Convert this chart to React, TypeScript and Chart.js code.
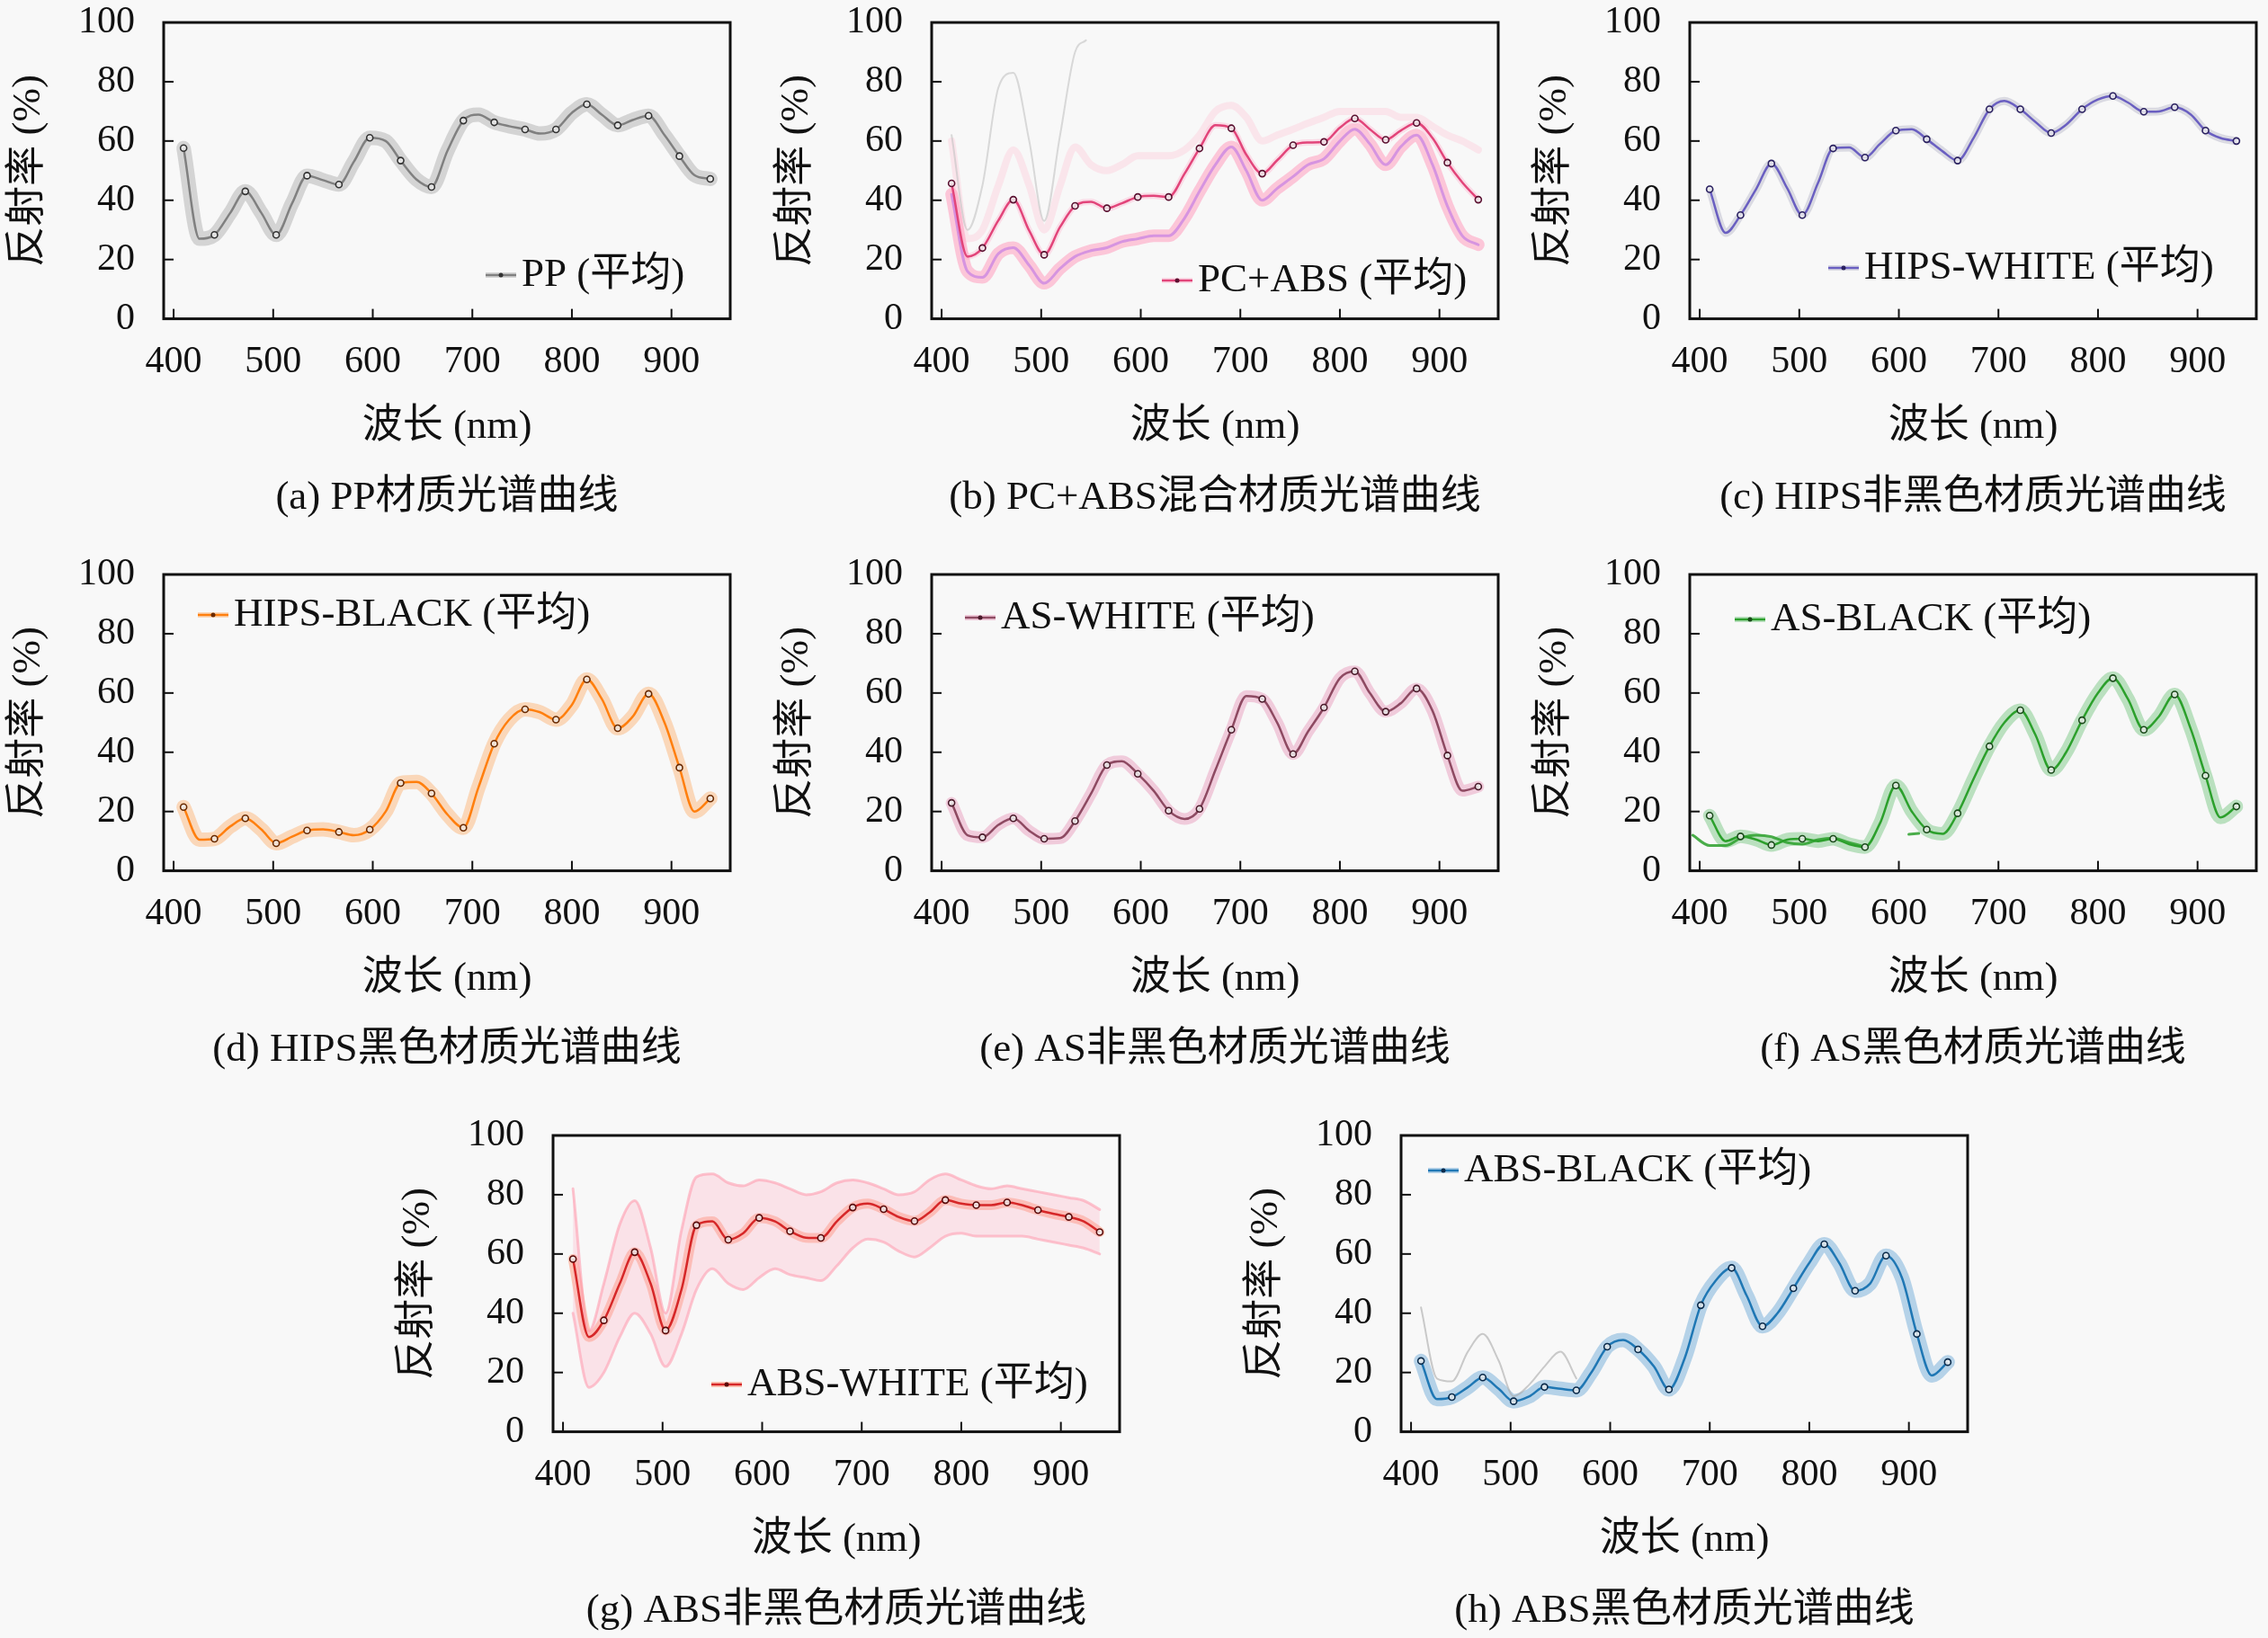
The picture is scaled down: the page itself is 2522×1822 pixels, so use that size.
import { useEffect, useRef } from 'react'
import { Chart, registerables, type ChartConfiguration, type Plugin } from 'chart.js'

Chart.register(...registerables)

const FONT = "'Liberation Serif', 'Noto Sans CJK SC', serif"
Chart.defaults.font.family = FONT

// sample wavelengths (nm); every other sample carries a marker
const WAVELENGTHS = [410, 426, 441, 457, 472, 488, 503, 519, 534, 550, 566, 581, 597, 613, 628, 644, 659, 675, 691, 706, 722, 737, 753, 768, 784, 800, 815, 830, 846, 861, 877, 893, 908, 923, 939]
const X_TICKS = [400, 500, 600, 700, 800, 900]
const Y_TICKS = [0, 20, 40, 60, 80, 100]

// mean reflectance (%) per material
const PP_MEAN = [57.6, 27, 28.3, 35.8, 43, 35.8, 28.3, 39, 48.3, 46.8, 45.3, 53, 61.1, 60, 53.4, 47, 44.5, 56.7, 66.9, 68.9, 66.3, 65, 63.9, 62.5, 63.9, 69.5, 72.4, 68.9, 65.3, 67.1, 68.5, 62, 54.9, 48.5, 47.2]
const PCABS_MEAN = [45.7, 21, 23.9, 33.2, 40.2, 29.7, 21.6, 31, 38.1, 39.5, 37.3, 39, 41.1, 41.5, 41.1, 49, 57.5, 65.3, 64.3, 55.4, 49, 53.5, 58.6, 59.5, 59.7, 64.5, 67.6, 64, 60.4, 63.5, 66.1, 61, 52.7, 46, 40.2]
const HIPS_WHITE_MEAN = [43.7, 29, 35, 44, 52.4, 44, 35, 46, 57.5, 57.8, 54.4, 59, 63.5, 64, 60.6, 56.5, 53.4, 61, 70.7, 73.5, 70.7, 66.5, 62.7, 65.5, 70.7, 74, 75.2, 73, 69.9, 70, 71.4, 69, 63.5, 61, 60]
const HIPS_BLACK_MEAN = [21.5, 10.5, 10.8, 15, 17.7, 14, 9.3, 11.5, 13.6, 14, 13.1, 12, 13.9, 20, 29.6, 30, 26.1, 19, 14.5, 28, 42.9, 51, 54.5, 53.5, 51, 56, 64.6, 58, 48.1, 52, 59.7, 50, 34.8, 20, 24.4]
const AS_WHITE_MEAN = [22.9, 12, 11.3, 15.5, 17.7, 13.5, 10.8, 11, 16.8, 26, 35.7, 37, 32.7, 27, 20.3, 17.5, 20.9, 34, 47.6, 59, 58, 50, 39.4, 47, 55.1, 65, 67.3, 60, 53.7, 56.5, 61.5, 54, 38.9, 27, 28.4]
const AS_BLACK_MEAN = [18.6, 10, 11.6, 10.5, 8.7, 10.5, 10.8, 10, 10.8, 9, 8, 16, 28.8, 20, 13.9, 12.5, 19.4, 31, 42, 50, 54.2, 46, 34, 40, 50.8, 60, 65, 58, 47.6, 52, 59.5, 48, 32.1, 18, 21.7]
const ABS_WHITE_MEAN = [58.3, 32, 37.6, 50, 60.6, 50, 34.2, 48, 69.7, 71, 64.8, 67, 72.2, 71, 67.7, 65.5, 65.4, 71, 75.7, 77, 75.1, 72.5, 71.1, 74, 78.2, 77, 76.5, 76.5, 77.4, 76.5, 74.8, 73.5, 72.5, 71, 67.4]
const ABS_BLACK_MEAN = [23.9, 11, 11.7, 15, 18.3, 14.5, 10.3, 12, 15.1, 14.5, 14, 20, 28.7, 31, 27.8, 22, 14.3, 25, 42.7, 51, 55.3, 46, 35.6, 40, 48.4, 57, 63.3, 57, 47.6, 50, 59.4, 52, 33, 19, 23.5]

// individual sample curves that stray from the mean
const PCABS_LOW = [42, 16, 14, 22, 24, 18, 12, 17, 21, 23, 24, 26, 27, 28, 28, 34, 43, 52, 58, 50, 40, 44, 48, 52, 54, 60, 64, 59, 52, 58, 62, 52, 38, 28, 25]
const PCABS_HIGH = [60, 27, 30, 45, 57, 45, 30, 45, 58, 52, 50, 52, 55, 55, 55, 57, 62, 70, 72, 68, 60, 62, 64, 66, 68, 70, 70, 70, 70, 68, 68, 65, 62, 60, 57]
const PCABS_SPIKE_WL = [410, 426, 441, 457, 472, 488, 503, 519, 534, 545]
const PCABS_SPIKE = [62, 30, 45, 78, 83, 60, 33, 62, 90, 94]
const ABS_WHITE_UPPER = [82, 34, 50, 70, 78, 62, 40, 68, 86, 87, 84, 83, 85, 84, 82, 80, 81, 84, 85, 84, 82, 80, 81, 85, 87, 85, 83, 82, 83, 82, 81, 80, 79, 78, 75]
const ABS_WHITE_LOWER = [40, 15, 20, 32, 40, 33, 22, 33, 48, 55, 50, 48, 52, 55, 53, 52, 51, 56, 62, 65, 64, 61, 59, 62, 66, 67, 66, 66, 66, 66, 65, 64, 63, 62, 60]
const AS_BLACK_ALT_WL = [393, 410, 426, 441, 457, 472, 488, 503, 519, 534, 550, 562]
const AS_BLACK_ALT = [12, 8.5, 8.5, 11, 12, 11.5, 9.5, 9, 10.5, 11, 9.5, 8.5]
const AS_BLACK_BIT_WL = [610, 620]
const AS_BLACK_BIT = [12.3, 12.6]
const ABS_BLACK_GRAY_WL = [410, 426, 441, 457, 472, 488, 503, 519, 534, 550, 566]
const ABS_BLACK_GRAY = [42, 18, 17, 27, 33, 24, 12, 16, 22, 27, 18]

const CANVAS_W = 824
const CANVAS_H = 590
const TEXT_SIZE = 45
const TICK_SIZE = 42

interface Extra {
  wl: number[]
  values: number[]
  color: string
  width: number
  order: number
  fill?: string | boolean
  fillColor?: string
}

interface PanelSpec {
  left: number
  top: number
  caption: string
  legend: string
  legendX: number
  legendY: number
  mean: number[]
  line: string
  marker: string
  band: string
  bandWidth: number
  extras?: Extra[]
}

const PANELS: PanelSpec[] = [
  { left: 0, top: 0, caption: '(a) PP材质光谱曲线', legend: 'PP (平均)', legendX: 358, legendY: 281,
    mean: PP_MEAN, line: '#808080', marker: '#333333', band: 'rgba(128,128,128,0.3)', bandWidth: 16 },
  { left: 854, top: 0, caption: '(b) PC+ABS混合材质光谱曲线', legend: 'PC+ABS (平均)', legendX: 256, legendY: 287,
    mean: PCABS_MEAN, line: '#e2457a', marker: '#5a1030', band: 'rgba(255,170,200,0.35)', bandWidth: 7,
    extras: [
      { wl: PCABS_SPIKE_WL, values: PCABS_SPIKE, color: 'rgba(190,190,190,0.55)', width: 2, order: 3 },
      { wl: WAVELENGTHS, values: PCABS_HIGH, color: 'rgba(255,185,205,0.3)', width: 8, order: 3 },
      { wl: WAVELENGTHS, values: PCABS_LOW, color: 'rgba(255,165,195,0.6)', width: 14, order: 2 },
      { wl: WAVELENGTHS, values: PCABS_LOW, color: 'rgba(200,130,225,0.75)', width: 3, order: 1 },
    ] },
  { left: 1697, top: 0, caption: '(c) HIPS非黑色材质光谱曲线', legend: 'HIPS-WHITE (平均)', legendX: 154, legendY: 273,
    mean: HIPS_WHITE_MEAN, line: '#6a5fc1', marker: '#2a2060', band: 'rgba(150,150,175,0.3)', bandWidth: 9 },
  { left: 0, top: 614, caption: '(d) HIPS黑色材质光谱曲线', legend: 'HIPS-BLACK (平均)', legendX: 38, legendY: 45,
    mean: HIPS_BLACK_MEAN, line: '#ff7f0e', marker: '#6a2a00', band: 'rgba(255,140,40,0.3)', bandWidth: 16 },
  { left: 854, top: 614, caption: '(e) AS非黑色材质光谱曲线', legend: 'AS-WHITE (平均)', legendX: 37, legendY: 48,
    mean: AS_WHITE_MEAN, line: '#8e4a62', marker: '#4a1a2a', band: 'rgba(225,120,165,0.35)', bandWidth: 13 },
  { left: 1697, top: 614, caption: '(f) AS黑色材质光谱曲线', legend: 'AS-BLACK (平均)', legendX: 50, legendY: 50,
    mean: AS_BLACK_MEAN, line: '#2ca02c', marker: '#1a4a1a', band: 'rgba(44,170,60,0.3)', bandWidth: 15,
    extras: [
      { wl: AS_BLACK_ALT_WL, values: AS_BLACK_ALT, color: 'rgba(44,160,44,0.85)', width: 3, order: 1 },
      { wl: AS_BLACK_BIT_WL, values: AS_BLACK_BIT, color: 'rgba(44,160,44,0.85)', width: 3, order: 1 },
    ] },
  { left: 433, top: 1238, caption: '(g) ABS非黑色材质光谱曲线', legend: 'ABS-WHITE (平均)', legendX: 176, legendY: 277,
    mean: ABS_WHITE_MEAN, line: '#d62728', marker: '#5a0a0a', band: 'rgba(255,120,80,0.4)', bandWidth: 11,
    extras: [
      { wl: WAVELENGTHS, values: ABS_WHITE_UPPER, color: 'rgba(255,150,170,0.55)', width: 3, order: 3, fill: '+1', fillColor: 'rgba(255,170,190,0.28)' },
      { wl: WAVELENGTHS, values: ABS_WHITE_LOWER, color: 'rgba(255,150,170,0.55)', width: 3, order: 3 },
    ] },
  { left: 1376, top: 1238, caption: '(h) ABS黑色材质光谱曲线', legend: 'ABS-BLACK (平均)', legendX: 30, legendY: 39,
    mean: ABS_BLACK_MEAN, line: '#1f77b4', marker: '#0a2a4a', band: 'rgba(40,130,200,0.32)', bandWidth: 16,
    extras: [
      { wl: ABS_BLACK_GRAY_WL, values: ABS_BLACK_GRAY, color: 'rgba(170,170,170,0.6)', width: 2, order: 3 },
    ] },
]

const pts = (wl: number[], vals: number[]) => vals.map((v, i) => ({ x: wl[i], y: v }))

function framePlugin(spec: PanelSpec): Plugin<'line'> {
  return {
    id: 'frame',
    afterDatasetsDraw(chart) {
      const { ctx, chartArea: { left, top, right, bottom }, scales: { x, y } } = chart
      ctx.save()
      ctx.strokeStyle = '#111'
      ctx.lineWidth = 2
      for (const v of X_TICKS) {
        const px = x.getPixelForValue(v)
        ctx.beginPath(); ctx.moveTo(px, bottom); ctx.lineTo(px, bottom - 11); ctx.stroke()
      }
      for (const v of Y_TICKS) {
        const py = y.getPixelForValue(v)
        ctx.beginPath(); ctx.moveTo(left, py); ctx.lineTo(left + 11, py); ctx.stroke()
      }
      ctx.lineWidth = 3
      ctx.strokeRect(left, top, right - left, bottom - top)

      // legend entry inside the plot
      const lx = left + spec.legendX
      const ly = top + spec.legendY
      ctx.strokeStyle = spec.band
      ctx.lineWidth = 6
      ctx.beginPath(); ctx.moveTo(lx, ly); ctx.lineTo(lx + 34, ly); ctx.stroke()
      ctx.strokeStyle = spec.line
      ctx.lineWidth = 2.5
      ctx.beginPath(); ctx.moveTo(lx, ly); ctx.lineTo(lx + 34, ly); ctx.stroke()
      ctx.fillStyle = spec.marker
      ctx.beginPath(); ctx.arc(lx + 17, ly, 2.5, 0, Math.PI * 2); ctx.fill()
      ctx.fillStyle = '#111'
      ctx.font = `${TEXT_SIZE}px ${FONT}`
      ctx.textBaseline = 'middle'
      ctx.textAlign = 'left'
      ctx.fillText(spec.legend, lx + 40, ly)
      ctx.restore()
    },
  }
}

function buildConfig(spec: PanelSpec): ChartConfiguration<'line'> {
  const extras = (spec.extras ?? []).map((e) => ({
    data: pts(e.wl, e.values),
    borderColor: e.color,
    borderWidth: e.width,
    backgroundColor: e.fillColor ?? 'transparent',
    fill: e.fill ?? false,
    pointRadius: 0,
    cubicInterpolationMode: 'monotone' as const,
    borderCapStyle: 'round' as const,
    borderJoinStyle: 'round' as const,
    clip: 0,
    order: e.order,
  }))
  return {
    type: 'line',
    data: {
      datasets: [
        {
          label: spec.legend,
          data: pts(WAVELENGTHS, spec.mean),
          borderColor: spec.line,
          borderWidth: 2.5,
          pointRadius: (c) => (c.dataIndex % 2 === 0 ? 3.5 : 0),
          pointBackgroundColor: 'rgba(240,240,240,0.85)',
          pointBorderColor: spec.marker,
          pointBorderWidth: 1.6,
          cubicInterpolationMode: 'monotone',
          clip: 0,
          order: 0,
        },
        ...extras,
        {
          data: pts(WAVELENGTHS, spec.mean),
          borderColor: spec.band,
          borderWidth: spec.bandWidth,
          pointRadius: 0,
          cubicInterpolationMode: 'monotone',
          borderCapStyle: 'round',
          borderJoinStyle: 'round',
          clip: 0,
          order: 5,
        },
      ] as any,
    },
    options: {
      animation: false,
      responsive: false,
      events: [],
      layout: { padding: { left: 0, top: 25, right: 12, bottom: 0 } },
      plugins: {
        legend: { display: false },
        tooltip: { enabled: false },
        title: {
          display: true,
          position: 'bottom',
          fullSize: false,
          text: spec.caption,
          color: '#111',
          font: { size: TEXT_SIZE, weight: 'normal', lineHeight: 1.2, family: FONT },
          padding: { top: 23, bottom: 8.4 },
        },
      },
      scales: {
        x: {
          type: 'linear',
          min: 390,
          max: 959,
          afterBuildTicks: (s) => { s.ticks = X_TICKS.map((v) => ({ value: v })) },
          afterFit: (s) => { s.height = 150 },
          grid: { display: false, drawTicks: false },
          border: { display: false },
          ticks: { color: '#111', font: { size: TICK_SIZE, family: FONT }, padding: 23, maxRotation: 0, autoSkip: false },
          title: {
            display: true,
            text: '波长 (nm)',
            color: '#111',
            font: { size: TEXT_SIZE, lineHeight: 1.2, family: FONT },
            padding: { top: 0, bottom: 2 },
          },
        },
        y: {
          min: 0,
          max: 100,
          afterBuildTicks: (s) => { s.ticks = Y_TICKS.map((v) => ({ value: v })) },
          afterFit: (s) => {
            s.width = 182
            s.paddingTop = 25
            s.paddingBottom = 0
          },
          grid: { display: false, drawTicks: false },
          border: { display: false },
          ticks: { color: '#111', font: { size: TICK_SIZE, family: FONT }, padding: 32, autoSkip: false },
          title: {
            display: true,
            text: '反射率 (%)',
            color: '#111',
            font: { size: TEXT_SIZE, lineHeight: 1.2, family: FONT },
            padding: { top: 5, bottom: 0 },
          },
        },
      },
    },
    plugins: [framePlugin(spec)],
  }
}

function Panel({ spec }: { spec: PanelSpec }) {
  const canvasRef = useRef<HTMLCanvasElement>(null)

  useEffect(() => {
    if (!canvasRef.current) return
    const chart = new Chart(canvasRef.current, buildConfig(spec))
    return () => chart.destroy()
  }, [spec])

  return (
    <canvas
      ref={canvasRef}
      width={CANVAS_W}
      height={CANVAS_H}
      style={{ position: 'absolute', left: spec.left, top: spec.top, width: CANVAS_W, height: CANVAS_H }}
    />
  )
}

export default function App() {
  return (
    <div style={{ position: 'absolute', left: 0, top: 0, width: 2522, height: 1822, overflow: 'hidden', background: '#f8f8f8' }}>
      {PANELS.map((p) => <Panel key={p.caption} spec={p} />)}
    </div>
  )
}
